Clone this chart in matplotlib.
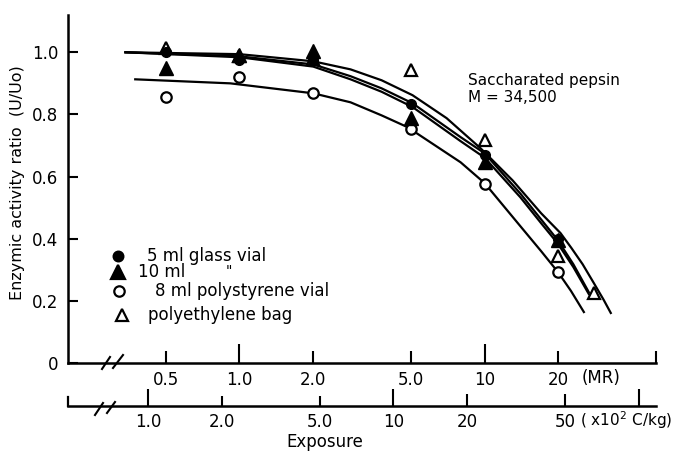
import numpy as np
import matplotlib
matplotlib.use("Agg")
import matplotlib.pyplot as plt
from matplotlib.lines import Line2D
from matplotlib.ticker import FixedLocator, FixedFormatter, NullLocator

# ---------------- data ----------------
exposure_mr = [0.5, 1.0, 2.0, 5.0, 10.0, 20.0]
glass5_vals = [1.000, 0.974, 0.975, 0.833, 0.669, 0.400]      # filled circle
vial10_vals = [0.949, 0.990, 1.003, 0.788, 0.646, 0.395]      # filled triangle
poly8_vals = [0.855, 0.920, 0.868, 0.752, 0.575, 0.293]       # open circle
bag_x = [0.5, 1.0, 2.0, 5.0, 10.0, 20.0, 28.0]
bag_vals = [1.013, 0.987, 0.980, 0.942, 0.717, 0.344, 0.225]  # open triangle

# fitted curves (sampled along the drawn lines)
bag_curve_x = [0.343, 1.0, 2.0, 2.84, 3.8, 5.08, 7.0, 9.63, 13.0, 17.0, 20.4, 22.6, 25.1, 27.9, 30.6, 32.7]
bag_curve_y = [1.000, 0.994, 0.971, 0.945, 0.910, 0.862, 0.788, 0.691, 0.588, 0.482, 0.418, 0.370, 0.318, 0.257, 0.203, 0.161]
glass_curve_x = [0.343, 1.0, 2.0, 2.84, 3.8, 5.08, 7.98, 10.0, 14.0, 17.0, 19.9, 23.0, 26.6]
glass_curve_y = [1.000, 0.987, 0.961, 0.923, 0.884, 0.836, 0.727, 0.675, 0.545, 0.462, 0.395, 0.318, 0.228]
vial_curve_x = [0.343, 1.0, 2.0, 2.84, 3.8, 5.08, 7.98, 10.0, 14.0, 17.0, 19.9, 23.0, 26.6]
vial_curve_y = [1.000, 0.984, 0.954, 0.913, 0.873, 0.824, 0.714, 0.661, 0.533, 0.450, 0.384, 0.309, 0.222]
poly_curve_x = [0.376, 0.919, 2.0, 2.84, 3.8, 4.85, 7.98, 10.0, 14.0, 17.0, 19.9, 22.5, 25.4]
poly_curve_y = [0.913, 0.900, 0.868, 0.839, 0.797, 0.759, 0.646, 0.579, 0.440, 0.360, 0.293, 0.232, 0.164]

mr_ticks = [0.5, 1.0, 2.0, 5.0, 10.0, 20.0, 50.0]
mr_labels = ["0.5", "1.0", "2.0", "5.0", "10", "20", ""]
ckg_ticks = [1.0, 2.0, 5.0, 10.0, 20.0, 50.0, 100.0]
ckg_labels = ["1.0", "2.0", "5.0", "10", "20", "50", ""]
y_ticks = [0, 0.2, 0.4, 0.6, 0.8, 1.0]
y_labels = ["0", "0.2", "0.4", "0.6", "0.8", "1.0"]
MR_PER_CKG = 0.425   # MR per (x10^2 C/kg) as drawn on the lower scale

# ---------------- layout ----------------
W, H = 681, 454
fig = plt.figure(figsize=(6.81, 4.54), dpi=100)
plt.rcParams['font.family'] = ['DejaVu Sans']

def fx(px):
    return px / W

def fy(py):
    return 1 - py / H

ax = fig.add_axes([fx(68), fy(363), fx(656) - fx(68), fy(15) - fy(363)])
ax.set_xscale('log')
ax.set_xlim(0.2, 50)
ax.set_ylim(0, 1.12)
for s in ['top', 'right']:
    ax.spines[s].set_visible(False)
for s in ['left', 'bottom']:
    ax.spines[s].set_linewidth(1.8)

ax.xaxis.set_major_locator(FixedLocator(mr_ticks))
ax.xaxis.set_major_formatter(FixedFormatter(mr_labels))
ax.xaxis.set_minor_locator(NullLocator())
ax.yaxis.set_major_locator(FixedLocator(y_ticks))
ax.yaxis.set_major_formatter(FixedFormatter(y_labels))
ax.tick_params(axis='x', direction='in', width=1.5, pad=6, labelsize=12)
ax.tick_params(axis='y', direction='in', length=7, width=1.5, pad=7, labelsize=12)
for t, L in zip(ax.xaxis.get_major_ticks(), [9, 14, 9, 9, 14, 9, 9]):
    t.tick1line.set_markersize(L)

lw = 1.6
ax.plot(bag_curve_x, bag_curve_y, color='black', lw=lw, zorder=2)
ax.plot(glass_curve_x, glass_curve_y, color='black', lw=lw, zorder=2)
ax.plot(vial_curve_x, vial_curve_y, color='black', lw=lw, zorder=2)
ax.plot(poly_curve_x, poly_curve_y, color='black', lw=lw, zorder=2)

ax.plot(exposure_mr, poly8_vals, 'o', ms=7.5, mfc='white', mec='black', mew=1.6, zorder=3)
ax.plot(bag_x, bag_vals, '^', ms=9, mfc='white', mec='black', mew=1.6, zorder=3)
ax.plot(exposure_mr, vial10_vals, '^', ms=10, color='black', zorder=4)
ax.plot(exposure_mr, glass5_vals, 'o', ms=7, color='black', zorder=4)

# lower exposure scale (x10^2 C/kg)
ax2 = fig.add_axes([fx(68), fy(406), fx(656) - fx(68), 0.0001])
ax2.set_xscale('log')
ax2.set_xlim(0.2 / MR_PER_CKG, 50 / MR_PER_CKG)
ax2.patch.set_visible(False)
for s in ['top', 'right', 'left']:
    ax2.spines[s].set_visible(False)
ax2.spines['bottom'].set_linewidth(1.8)
ax2.set_yticks([])
ax2.xaxis.set_major_locator(FixedLocator(ckg_ticks))
ax2.xaxis.set_major_formatter(FixedFormatter(ckg_labels))
ax2.xaxis.set_minor_locator(NullLocator())
ax2.tick_params(axis='x', direction='in', width=1.5, pad=5, labelsize=12)
for t, L in zip(ax2.xaxis.get_major_ticks(), [12, 7, 7, 12, 9, 9, 12]):
    t.tick1line.set_markersize(L)

# small upward tick at the left end of the lower scale
fig.add_artist(Line2D([fx(68), fx(68)], [fy(406), fy(397)], color='black', lw=1.6))

# axis break marks
for (x0, y0, x1, y1) in [(102, 369, 110, 357), (113, 368, 123, 355),
                         (95, 415, 103, 403), (107, 413, 115, 402)]:
    fig.add_artist(Line2D([fx(x0), fx(x1)], [fy(y0), fy(y1)], color='black', lw=1.5))

# texts
fig.text(fx(582), fy(378), "(MR)", fontsize=12, va='center', ha='left')
fig.text(fx(580), fy(420), "( x10$^2$ C/kg)", fontsize=11, va='center', ha='left')
fig.text(fx(325), fy(442), "Exposure", fontsize=12, va='center', ha='center')
fig.text(fx(18), fy(183), "Enzymic activity ratio  (U/Uo)", fontsize=11.5,
         rotation=90, va='center', ha='center')
fig.text(fx(468), fy(80), "Saccharated pepsin", fontsize=11, va='center', ha='left')
fig.text(fx(468), fy(97), "M = 34,500", fontsize=11, va='center', ha='left')

# legend (drawn by hand)
leg = [('o', 'black', 7, 118, 256, 147, "5 ml glass vial"),
       ('^', 'black', 9.5, 118, 272, 138, "10 ml"),
       ('o', 'white', 7.5, 119, 291, 155, "8 ml polystyrene vial"),
       ('^', 'white', 9, 122, 315, 148, "polyethylene bag")]
for m, fc, ms, mx, my, tx, label in leg:
    fig.add_artist(Line2D([fx(mx)], [fy(my)], marker=m, ms=ms, mfc=fc, mec='black',
                          mew=1.6, linestyle='none'))
    fig.text(fx(tx), fy(my), label, fontsize=12, va='center', ha='left')
fig.text(fx(226), fy(271), '"', fontsize=10, va='center', ha='left', style='italic')

fig.savefig("out.png", dpi=100)
